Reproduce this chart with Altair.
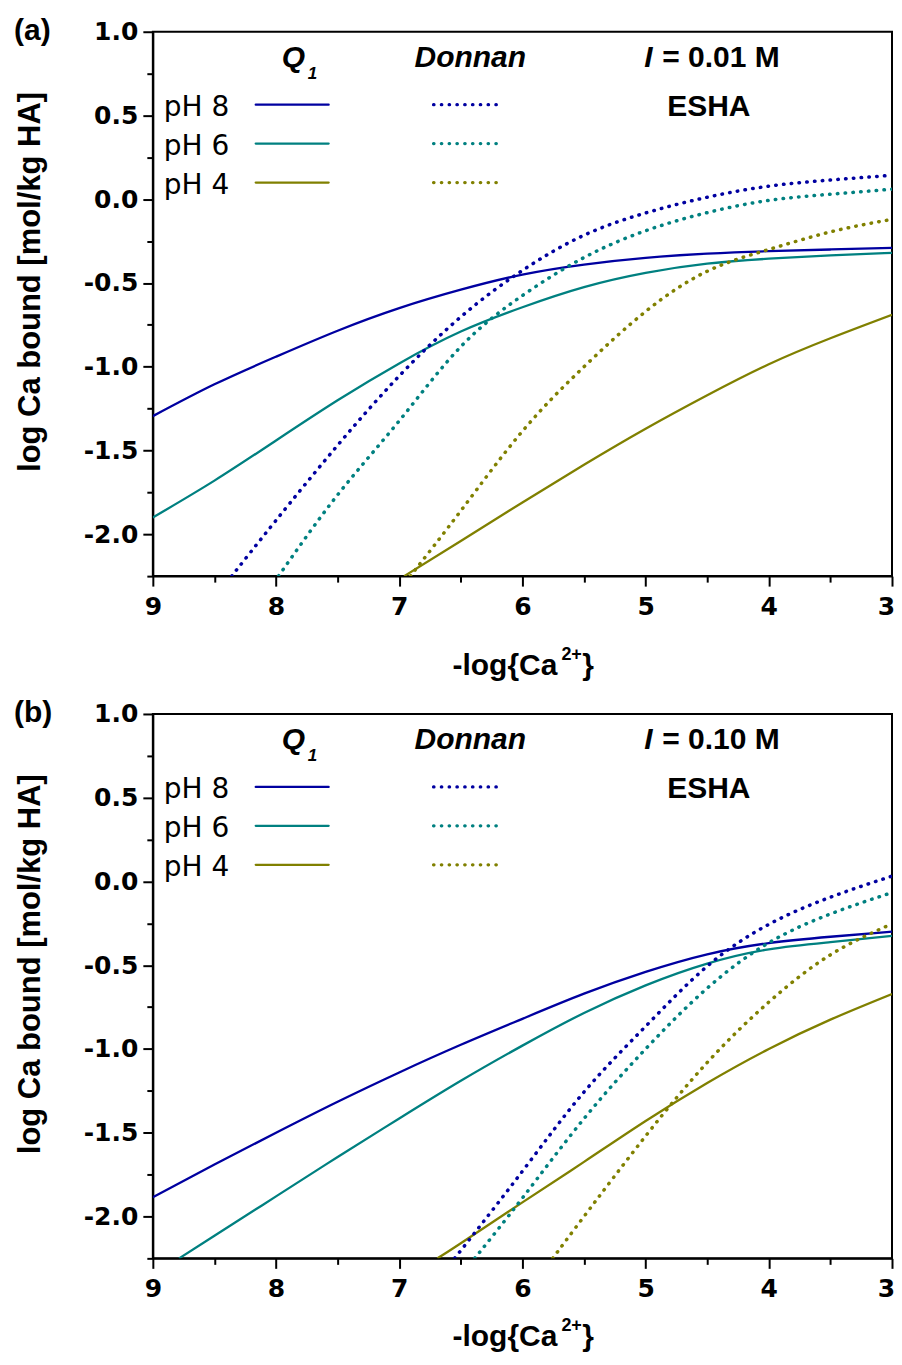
import altair as alt
import pandas as pd

# ---------------- data ----------------
panel_tags = ["(a)", "(b)"]
ionic_strengths = ["0.01", "0.10"]
ph_labels = ["pH 8", "pH 6", "pH 4"]
model_labels = ["Q", "Donnan"]
sample_label = "ESHA"
line_colors = ["#0000A0", "#008080", "#808000"]

x_ticks_major = [9, 8, 7, 6, 5, 4, 3]
x_ticks_minor = [8.5, 7.5, 6.5, 5.5, 4.5, 3.5]
y_ticks_major = [1.0, 0.5, 0.0, -0.5, -1.0, -1.5, -2.0]
y_ticks_minor = [0.75, 0.25, -0.25, -0.75, -1.25, -1.75, -2.25]

# Panel (a)  I = 0.01 M
a_q1_ph8_x = [9, 8.5, 8, 7.5, 7, 6.5, 6, 5.5, 5, 4.5, 4, 3.5, 3]
a_q1_ph8_y = [-1.295, -1.105, -0.94, -0.785, -0.65, -0.54, -0.45, -0.39, -0.35, -0.325, -0.31, -0.30, -0.29]
a_q1_ph6_x = [9, 8.5, 8, 7.5, 7, 6.5, 6, 5.5, 5, 4.5, 4, 3.5, 3]
a_q1_ph6_y = [-1.90, -1.68, -1.44, -1.20, -0.98, -0.79, -0.645, -0.525, -0.44, -0.385, -0.355, -0.335, -0.32]
a_q1_ph4_x = [6.96, 6.5, 6, 5.5, 5, 4.5, 4, 3.5, 3]
a_q1_ph4_y = [-2.25, -2.04, -1.81, -1.585, -1.37, -1.17, -0.985, -0.83, -0.69]
a_dn_ph8_x = [8.36, 8, 7.5, 7, 6.5, 6, 5.5, 5, 4.5, 4, 3.5, 3]
a_dn_ph8_y = [-2.25, -1.917, -1.469, -1.055, -0.702, -0.425, -0.215, -0.082, 0.012, 0.078, 0.115, 0.143]
a_dn_ph6_x = [7.98, 7.5, 7, 6.5, 6, 5.5, 5, 4.5, 4, 3.5, 3]
a_dn_ph6_y = [-2.25, -1.765, -1.323, -0.88, -0.575, -0.348, -0.188, -0.080, -0.007, 0.030, 0.06]
a_dn_ph4_x = [6.91, 6.5, 6, 5.5, 5, 4.5, 4, 3.5, 3]
a_dn_ph4_y = [-2.25, -1.86, -1.385, -1.0, -0.67, -0.43, -0.30, -0.195, -0.12]

# Panel (b)  I = 0.10 M
b_q1_ph8_x = [9, 8.5, 8, 7.5, 7, 6.5, 6, 5.5, 5, 4.5, 4, 3.5, 3]
b_q1_ph8_y = [-1.885, -1.69, -1.50, -1.315, -1.14, -0.975, -0.82, -0.67, -0.54, -0.435, -0.368, -0.33, -0.30]
b_q1_ph6_x = [8.787, 8.5, 8, 7.5, 7, 6.5, 6, 5.5, 5, 4.5, 4, 3.5, 3]
b_q1_ph6_y = [-2.25, -2.115, -1.88, -1.645, -1.415, -1.19, -0.98, -0.785, -0.62, -0.49, -0.405, -0.362, -0.325]
b_q1_ph4_x = [6.69, 6.5, 6, 5.5, 5, 4.5, 4, 3.5, 3]
b_q1_ph4_y = [-2.25, -2.16, -1.916, -1.674, -1.43, -1.203, -1.0, -0.825, -0.672]
b_dn_ph8_x = [6.55, 6, 5.5, 5, 4.5, 4, 3.5, 3]
b_dn_ph8_y = [-2.25, -1.73, -1.257, -0.865, -0.506, -0.256, -0.094, 0.032]
b_dn_ph6_x = [6.387, 6, 5.5, 5, 4.5, 4, 3.5, 3]
b_dn_ph6_y = [-2.25, -1.89, -1.416, -1.0, -0.637, -0.366, -0.194, -0.066]
b_dn_ph4_x = [5.754, 5.5, 5, 4.5, 4, 3.5, 3]
b_dn_ph4_y = [-2.25, -2.0, -1.52, -1.081, -0.72, -0.438, -0.253]

series_a = [
    ("Q1", "pH 8", a_q1_ph8_x, a_q1_ph8_y), ("Q1", "pH 6", a_q1_ph6_x, a_q1_ph6_y),
    ("Q1", "pH 4", a_q1_ph4_x, a_q1_ph4_y), ("Donnan", "pH 8", a_dn_ph8_x, a_dn_ph8_y),
    ("Donnan", "pH 6", a_dn_ph6_x, a_dn_ph6_y), ("Donnan", "pH 4", a_dn_ph4_x, a_dn_ph4_y),
]
series_b = [
    ("Q1", "pH 8", b_q1_ph8_x, b_q1_ph8_y), ("Q1", "pH 6", b_q1_ph6_x, b_q1_ph6_y),
    ("Q1", "pH 4", b_q1_ph4_x, b_q1_ph4_y), ("Donnan", "pH 8", b_dn_ph8_x, b_dn_ph8_y),
    ("Donnan", "pH 6", b_dn_ph6_x, b_dn_ph6_y), ("Donnan", "pH 4", b_dn_ph4_x, b_dn_ph4_y),
]


def to_frame(series):
    rows = []
    for model, ph, xs, ys in series:
        for xv, yv in zip(xs, ys):
            rows.append({"model": model, "pH": ph, "pCa": xv, "logCa": yv})
    return pd.DataFrame(rows)


# ---------------- styling ----------------
ANN_FONT = "Liberation Sans"
TICK_FONT = "DejaVu Sans"
W, H = 740, 545

xscale = alt.Scale(domain=[3, 9], reverse=True, nice=False, zero=False)
yscale = alt.Scale(domain=[-2.25, 1.0], nice=False, zero=False)
cscale = alt.Scale(domain=ph_labels, range=line_colors)

axis_common = dict(grid=False, domainColor="black", tickColor="black", tickWidth=2,
                   domainWidth=2, labelColor="black")

major_x = alt.Axis(values=x_ticks_major, format="d", tickSize=10, orient="bottom",
                   labelFont=TICK_FONT, labelFontSize=25, labelFontWeight="bold",
                   labelPadding=8, title=None, labelFlush=False,
                   labelOffset={"condition": {"test": "datum.value == 3", "value": -6}, "value": 0},
                   **axis_common)
minor_x = alt.Axis(values=x_ticks_minor, labels=False, tickSize=6, domain=False,
                   orient="bottom", title=None, **axis_common)
major_y = alt.Axis(values=y_ticks_major, tickSize=10, orient="left",
                   labelExpr="replace(format(datum.value, '.1f'), '\u2212', '-')",
                   labelFont=TICK_FONT, labelFontSize=25, labelFontWeight="bold",
                   labelPadding=5, labelFlush=False,
                   title="log Ca bound [mol/kg HA]", titleFont=ANN_FONT,
                   titleFontSize=31, titleFontWeight="bold", titleColor="black",
                   titleX=-122, titleY=250, titleAngle=270, titleAlign="center",
                   titleBaseline="middle", **axis_common)
minor_y = alt.Axis(values=y_ticks_minor, labels=False, tickSize=6, domain=False,
                   orient="left", title=None, **axis_common)


def one_row(text):
    return pd.DataFrame({"t": [text]})


def txt(s, x, y, size=30, font=ANN_FONT, weight="bold", style="normal"):
    return alt.Chart(one_row(s)).mark_text(
        font=font, fontSize=size, fontWeight=weight, fontStyle=style,
        align="left", baseline="alphabetic", color="black"
    ).encode(text="t:N", x=alt.value(x), y=alt.value(y))


def rule(x1, x2, y, color, dotted):
    props = dict(color=color, strokeCap="round")
    if dotted:
        props.update(strokeWidth=3.2, strokeDash=[0.5, 7.3])
    else:
        props.update(strokeWidth=2.3)
    return alt.Chart(one_row("")).mark_rule(**props).encode(
        x=alt.value(x1), x2=alt.value(x2), y=alt.value(y))


def panel(series, tag, ionic, title_y):
    df = to_frame(series)
    base = alt.Chart(df)
    solid = base.transform_filter(alt.datum.model == "Q1").mark_line(
        strokeWidth=2.3, clip=True, interpolate="natural"
    ).encode(
        x=alt.X("pCa:Q", scale=xscale, axis=major_x),
        y=alt.Y("logCa:Q", scale=yscale, axis=major_y),
        color=alt.Color("pH:N", scale=cscale, legend=None),
    )
    dotted = base.transform_filter(alt.datum.model == "Donnan").mark_line(
        strokeWidth=3.5, strokeDash=[0.5, 7.3], strokeCap="round", clip=True,
        interpolate="natural"
    ).encode(
        x=alt.X("pCa:Q", scale=xscale, axis=minor_x),
        y=alt.Y("logCa:Q", scale=yscale, axis=minor_y),
        color=alt.Color("pH:N", scale=cscale, legend=None),
    )
    layers = [solid, dotted]
    # panel tag and headers
    layers.append(txt(tag, -139, 8))
    layers.append(txt(model_labels[0], 129, 35, style="italic"))
    layers.append(txt("1", 155, 47, size=17, style="italic"))
    layers.append(txt(model_labels[1], 262, 35, style="italic"))
    layers.append(txt("I", 492, 35, style="italic"))
    layers.append(txt("= " + ionic + " M", 510, 35))
    layers.append(txt(sample_label, 515, 84))
    # legend rows
    row_y = [73, 112, 151]
    for i, ph in enumerate(ph_labels):
        layers.append(txt(ph, 11, row_y[i] + 11, size=28, font=TICK_FONT, weight="normal"))
        layers.append(rule(103, 176, row_y[i], line_colors[i], False))
        layers.append(rule(281, 351, row_y[i], line_colors[i], True))
    # x-axis title  -log{Ca2+}
    layers.append(txt("-log{Ca", 300, title_y))
    layers.append(txt("2+", 409, title_y - 15, size=18))
    layers.append(txt("}", 430, title_y))
    return alt.layer(*layers).resolve_axis(x="independent", y="independent").properties(
        width=W, height=H)


pa = panel(series_a, panel_tags[0], ionic_strengths[0], 644)
pb = panel(series_b, panel_tags[1], ionic_strengths[1], 633)

chart = alt.vconcat(pa, pb, spacing=15).properties(
    padding={"left": 5, "top": 6, "right": -2, "bottom": 2}
).configure_view(stroke="black", strokeWidth=2)

chart.save("out.html", embed_options={"renderer": "svg", "actions": False})
